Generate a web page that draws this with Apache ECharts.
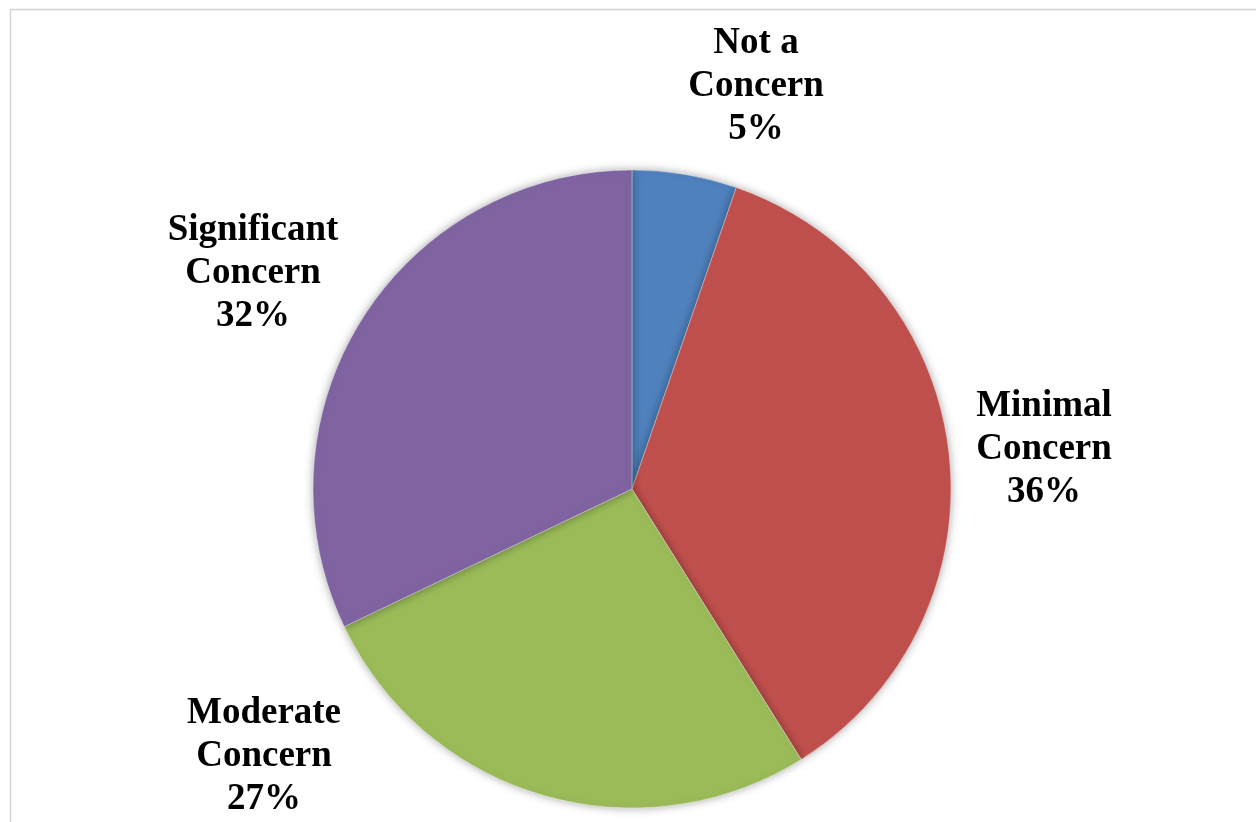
<!DOCTYPE html>
<html>
<head>
<meta charset="utf-8">
<script src="https://cdn.jsdelivr.net/npm/echarts@6/dist/echarts.min.js"></script>
<style>
html,body{margin:0;padding:0;background:#fff;}
#c{width:1256px;height:822px;}
</style>
</head>
<body>
<div id="c"></div>
<script>
const categories = ['Not a\nConcern', 'Minimal\nConcern', 'Moderate\nConcern', 'Significant\nConcern'];
const values = [5.3, 35.8, 26.8, 32.1];
const colors = ['#4F81BD', '#C0504D', '#9BBB59', '#8064A2'];
// label anchor positions (layout only), as in the reference picture
const labelPos = [[756, 86], [1044, 449], [264, 756], [253, 273]];

const chart = echarts.init(document.getElementById('c'), null, {renderer: 'canvas'});
chart.setOption({
  animation: false,
  graphic: [{
    type: 'rect',
    left: 8, top: 7,
    shape: {width: 1400, height: 900},
    style: {fill: 'none', stroke: '#d4d4d4', lineWidth: 1.5},
    z: -10
  }],
  series: [{
    type: 'pie',
    center: [632, 489],
    radius: 319,
    startAngle: 90,
    clockwise: true,
    data: categories.map((n, i) => ({name: n, value: values[i], itemStyle: {color: colors[i]}})),
    itemStyle: {
      borderColor: 'rgba(255,255,255,0.35)',
      borderWidth: 1,
      shadowBlur: 10,
      shadowColor: 'rgba(0,0,0,0.35)'
    },
    label: {
      show: true,
      position: 'outside',
      formatter: p => p.name + '\n' + Math.round(p.percent) + '%',
      fontFamily: 'Liberation Serif',
      fontWeight: 'bold',
      fontSize: 37,
      lineHeight: 43,
      color: '#000'
    },
    labelLayout: p => ({
      x: labelPos[p.dataIndex][0],
      y: labelPos[p.dataIndex][1],
      align: 'center',
      verticalAlign: 'middle'
    }),
    labelLine: {show: false},
    emphasis: {disabled: true}
  }]
});
</script>
</body>
</html>
